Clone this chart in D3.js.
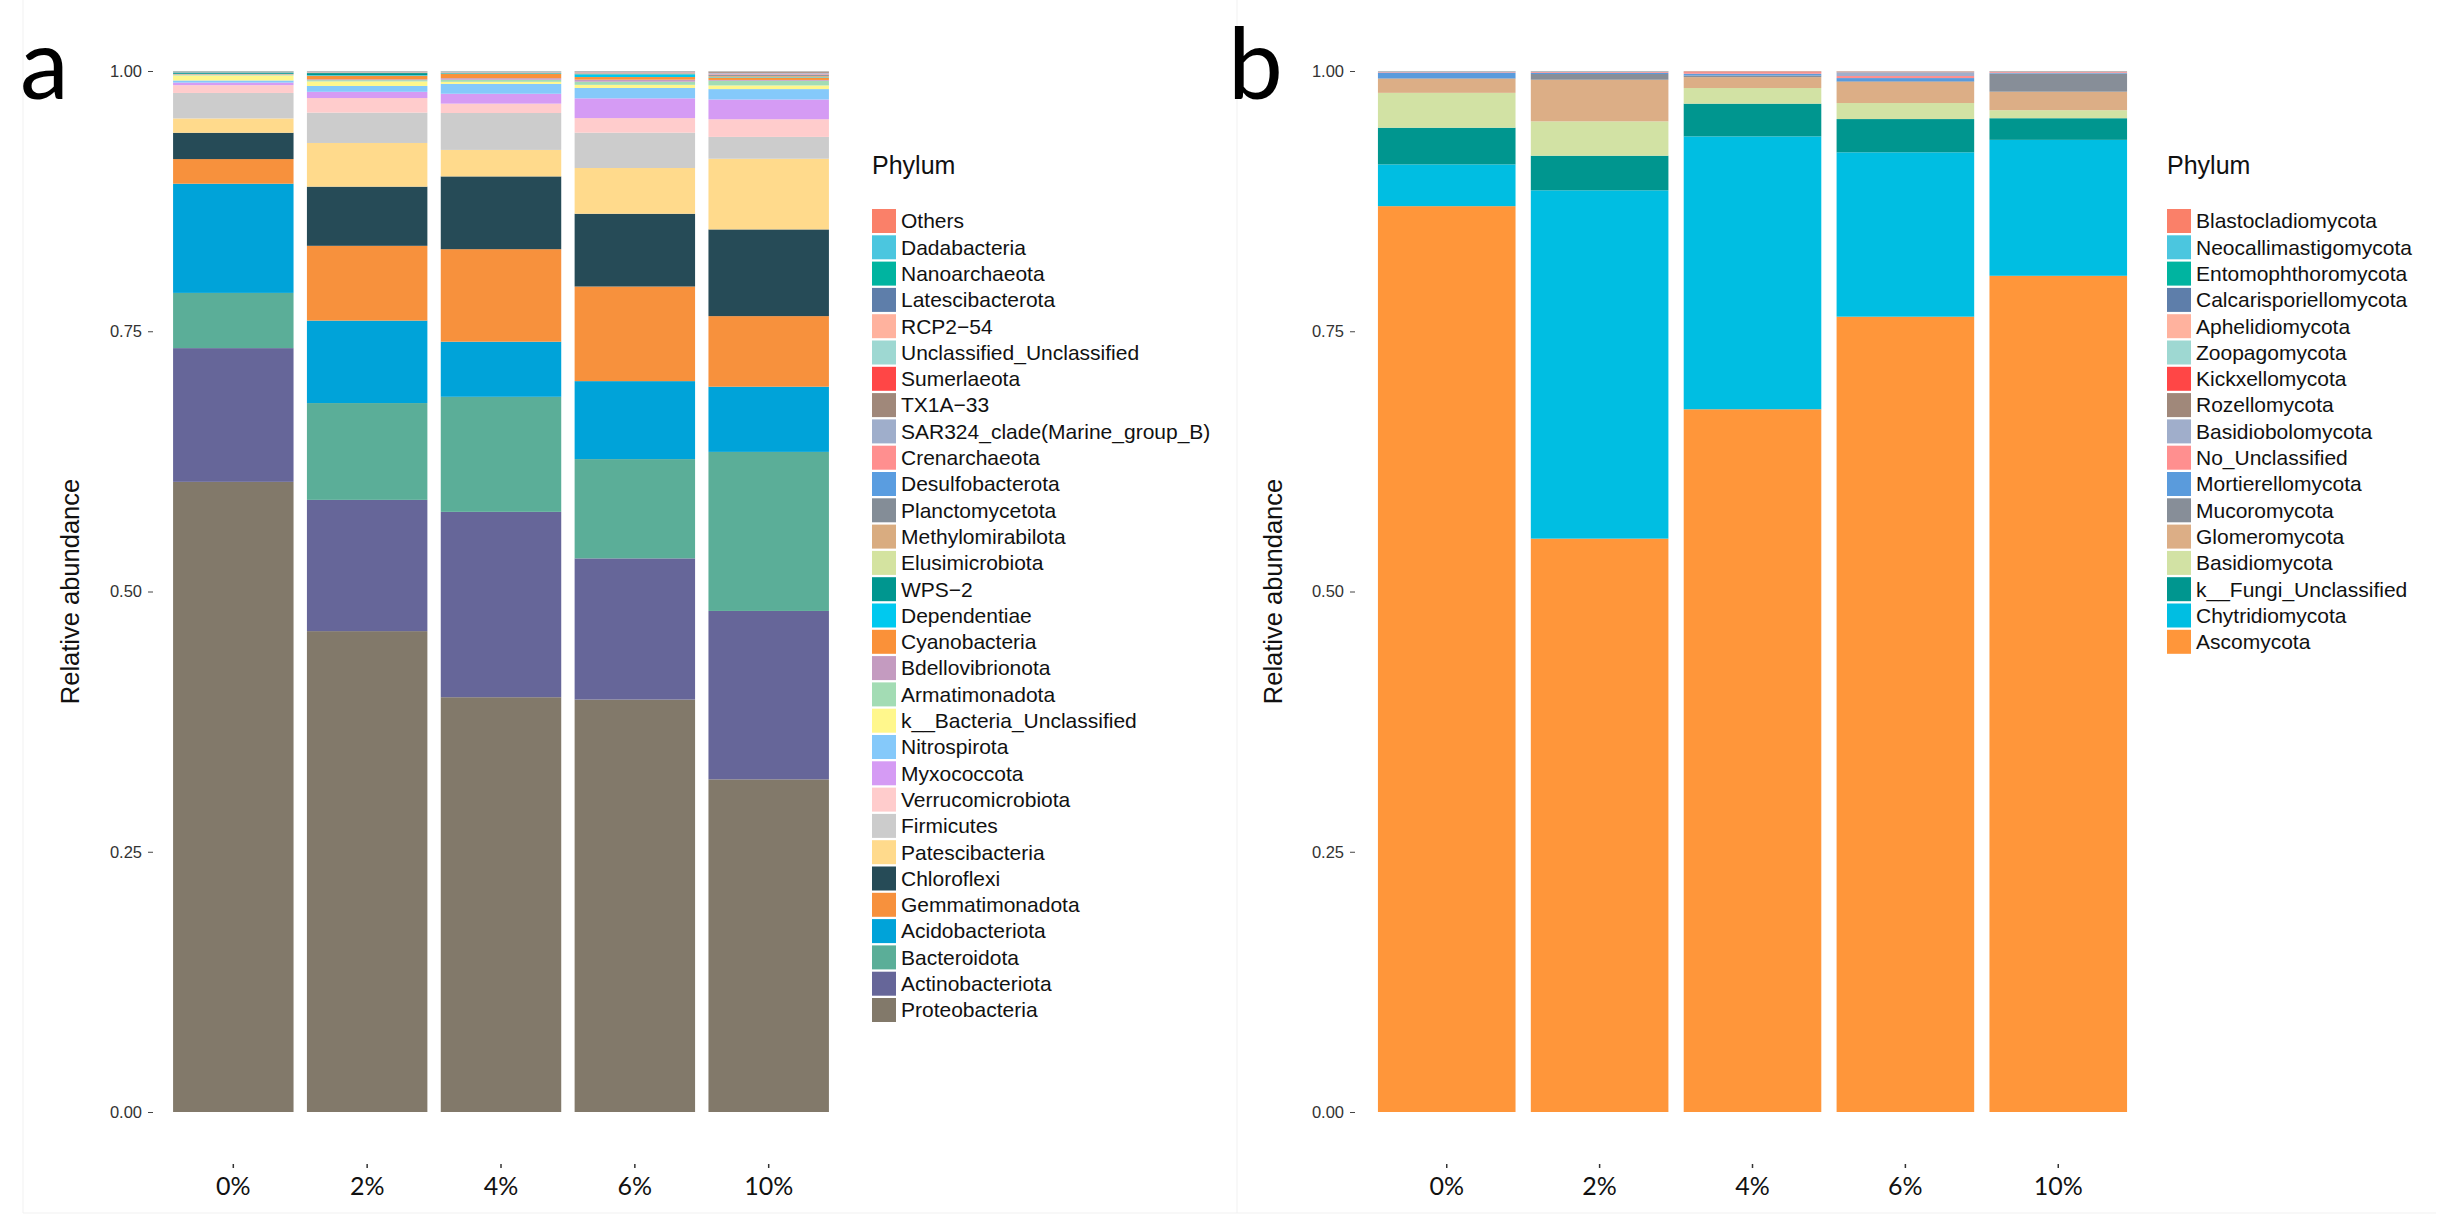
<!DOCTYPE html>
<html>
<head>
<meta charset="utf-8">
<script src="https://cdnjs.cloudflare.com/ajax/libs/d3/7.8.5/d3.min.js"></script>
<style>
  body { margin: 0; background: #fff; }
  svg { display: block; }
  .tick text { font-family: "Liberation Sans", Arial, sans-serif; }
</style>
</head>
<body>
<svg id="chart" width="2444" height="1227"></svg>
<script>
// samples (x categories)
var samples = ["0%", "2%", "4%", "6%", "10%"];
var yTicks = [0, 0.25, 0.5, 0.75, 1];

// bacteria, stack order bottom -> top
var bacPhyla = ["Proteobacteria", "Actinobacteriota", "Bacteroidota", "Acidobacteriota", "Gemmatimonadota",
    "Chloroflexi", "Patescibacteria", "Firmicutes", "Verrucomicrobiota", "Myxococcota", "Nitrospirota",
    "k__Bacteria_Unclassified", "Armatimonadota", "Bdellovibrionota", "Cyanobacteria", "Dependentiae",
    "WPS\u22122", "Elusimicrobiota", "Methylomirabilota", "Planctomycetota", "Desulfobacterota",
    "Crenarchaeota", "SAR324_clade(Marine_group_B)", "TX1A\u221233", "Sumerlaeota",
    "Unclassified_Unclassified", "RCP2\u221254", "Latescibacterota", "Nanoarchaeota", "Dadabacteria", "Others"];
var bacColors = ["#82796A", "#666699", "#5BAE98", "#00A3D9", "#F7913D",
    "#264B57", "#FFDA8C", "#CCCCCC", "#FFCCCC", "#D59BF4", "#85C9FA",
    "#FFF78C", "#A3DCB4", "#C49BC0", "#FA9139", "#00C9EF",
    "#00968F", "#D4E3A0", "#D9AC80", "#848D97", "#5A9DE0",
    "#FF8F8F", "#9FAECB", "#A0887A", "#FF4646",
    "#9ED8D2", "#FFB29E", "#5E7EAA", "#00B4A0", "#4BC6DF", "#FA8069"];
var bac0 = [0.606, 0.1286, 0.0531, 0.105, 0.0237, 0.0253, 0.0138, 0.0245, 0.0075, 0.0025, 0.002,
    0.0048, 0.0008, 0.0003, 0.0003, 0.0002, 0.0012, 0.0001, 0.0001, 0.0001, 0.0001,
    0.0001, 0.0001, 0.0001, 0.0001, 0.0001, 0.0001, 0.0001, 0.0002, 0.0001, 0.0001];
var bac2 = [0.4624, 0.1262, 0.0931, 0.0793, 0.0719, 0.0569, 0.042, 0.0292, 0.014, 0.006, 0.0056,
    0.0044, 0.0012, 0.0008, 0.0035, 0.0005, 0.002, 0.0003, 0.0003, 0.0002, 0.0001,
    0.0002, 0.0001, 0.0001, 0.0001, 0.0001, 0.0001, 0.0001, 0.0001, 0.0001, 0.0001];
var bac4 = [0.399, 0.1783, 0.1107, 0.053, 0.089, 0.070, 0.0255, 0.0355, 0.009, 0.0095, 0.0095,
    0.002, 0.002, 0.0015, 0.004, 0.0003, 0.0005, 0.0003, 0.0002, 0.0002, 0.0001,
    0.0002, 0.0001, 0.0001, 0.0001, 0.0003, 0.0001, 0.0001, 0.0001, 0.0001, 0.0001];
var bac6 = [0.3967, 0.1358, 0.0955, 0.075, 0.091, 0.070, 0.044, 0.034, 0.014, 0.019, 0.010,
    0.003, 0.003, 0.002, 0.0025, 0.0025, 0.0003, 0.0003, 0.0005, 0.0002, 0.0002,
    0.0005, 0.0002, 0.0004, 0.0001, 0.0001, 0.0001, 0.0001, 0.0001, 0.0001, 0.0001];
var bac10 = [0.320, 0.162, 0.153, 0.0627, 0.0679, 0.0834, 0.068, 0.021, 0.017, 0.019, 0.010,
    0.0035, 0.0045, 0.0008, 0.002, 0.0003, 0.0003, 0.0003, 0.001, 0.001, 0.0003,
    0.0008, 0.0008, 0.0008, 0.0002, 0.0002, 0.0002, 0.0001, 0.0001, 0.0001, 0.0001];

// fungi, stack order bottom -> top
var funPhyla = ["Ascomycota", "Chytridiomycota", "k__Fungi_Unclassified", "Basidiomycota", "Glomeromycota",
    "Mucoromycota", "Mortierellomycota", "No_Unclassified", "Basidiobolomycota", "Rozellomycota",
    "Kickxellomycota", "Zoopagomycota", "Aphelidiomycota", "Calcarisporiellomycota",
    "Entomophthoromycota", "Neocallimastigomycota", "Blastocladiomycota"];
var funColors = ["#FF963A", "#00BEE2", "#00968F", "#D2E2A4", "#DCAE86",
    "#878E98", "#5A9BDC", "#FF8F8F", "#A0AECB", "#A0887A",
    "#FF4646", "#9ED8D2", "#FFB29E", "#5E7EAA",
    "#00B4A0", "#4BC6DF", "#FA8069"];
var fun0 = [0.8706, 0.0401, 0.0353, 0.0335, 0.0135, 0.0005, 0.0055, 0.0005, 0.0002, 0.0001,
    0.0001, 0.0001, 0.0001, 0.0001, 0.0001, 0.0001, 0.0001];
var fun2 = [0.551, 0.3347, 0.0333, 0.033, 0.040, 0.0055, 0.001, 0.0008, 0.0003, 0.0001,
    0.0001, 0.0001, 0.0001, 0.0001, 0.0001, 0.0001, 0.0001];
var fun4 = [0.676, 0.2625, 0.0315, 0.015, 0.0105, 0.0015, 0.0015, 0.0008, 0.0002, 0.0001,
    0.0006, 0.0001, 0.0003, 0.0001, 0.0001, 0.0001, 0.0005];
var fun6 = [0.7646, 0.158, 0.032, 0.0154, 0.0204, 0.0006, 0.003, 0.002, 0.0035, 0.0002,
    0.0001, 0.0001, 0.0003, 0.0001, 0.0001, 0.0001, 0.0003];
var fun10 = [0.804, 0.1307, 0.0208, 0.0077, 0.0178, 0.0175, 0.0005, 0.0008, 0.0002, 0.0001,
    0.0001, 0.0001, 0.0001, 0.0001, 0.0001, 0.0001, 0.0002];

var sansFont = '"Liberation Sans", Arial, Helvetica, sans-serif';
var labelFont = 'Lato, "Open Sans", sans-serif';
var yTop = 71, yBottom = 1112;
var keySize = 24, keyStep = 26.3;

var svg = d3.select("#chart");

// faint frames of the pasted panels
svg.append("g")
    .attr("stroke", "#f1f1f1")
    .attr("fill", "none")
    .call(function (g) {
        g.append("line").attr("x1", 23).attr("x2", 23).attr("y1", 0).attr("y2", 1213);
        g.append("line").attr("x1", 1237).attr("x2", 1237).attr("y1", 0).attr("y2", 1213);
        g.append("line").attr("x1", 23).attr("x2", 2436).attr("y1", 1213).attr("y2", 1213);
    });

function drawPanel(p) {
    var g = svg.append("g");

    var x = d3.scaleBand().domain(samples)
        .range([p.left, p.right])
        .paddingInner(0.1)
        .paddingOuter(0.15);
    var y = d3.scaleLinear().domain([0, 1]).range([yBottom, yTop]);
    var color = d3.scaleOrdinal().domain(p.phyla).range(p.colors);

    var table = samples.map(function (s, i) {
        var row = { sample: s };
        p.phyla.forEach(function (ph, j) { row[ph] = p.values[i][j]; });
        return row;
    });
    var series = d3.stack().keys(p.phyla).offset(d3.stackOffsetExpand)(table);

    g.append("g").selectAll("g")
        .data(series)
        .join("g")
        .attr("fill", function (d) { return color(d.key); })
        .selectAll("rect")
        .data(function (d) { return d; })
        .join("rect")
        .attr("x", function (d) { return x(d.data.sample); })
        .attr("width", x.bandwidth())
        .attr("y", function (d) { return y(d[1]); })
        .attr("height", function (d) { return y(d[0]) - y(d[1]); });

    // y axis, no domain line
    var yAxis = d3.axisLeft(y).tickValues(yTicks).tickFormat(d3.format(".2f")).tickSize(5).tickPadding(6);
    g.append("g")
        .attr("transform", "translate(" + p.left + ",0)")
        .call(yAxis)
        .call(function (a) {
            a.select(".domain").remove();
            a.selectAll(".tick line").attr("stroke", "#444");
            a.selectAll(".tick text").attr("fill", "#333").style("font-size", "16.5px");
        });

    // x axis sits well below the bars
    var xAxis = d3.axisBottom(x).tickSize(4).tickPadding(9);
    g.append("g")
        .attr("transform", "translate(0,1164)")
        .call(xAxis)
        .call(function (a) {
            a.select(".domain").remove();
            a.selectAll(".tick line").attr("stroke", "#333").attr("stroke-width", 1.5);
            a.selectAll(".tick text").attr("fill", "#111")
                .style("font-family", labelFont).style("font-size", "25px");
        });

    g.append("text")
        .attr("transform", "translate(" + p.titleX + "," + ((yTop + yBottom) / 2) + ") rotate(-90)")
        .attr("text-anchor", "middle")
        .attr("font-family", sansFont)
        .attr("font-size", 25.5)
        .attr("fill", "#111")
        .text("Relative abundance");

    // panel letter
    g.append("text")
        .attr("x", p.letterX)
        .attr("y", 99)
        .attr("font-family", labelFont)
        .attr("font-size", 98)
        .attr("fill", "#000")
        .text(p.letter);

    // legend, reversed so the top of the stack is listed first
    var leg = g.append("g").attr("transform", "translate(" + p.legendX + ",0)");
    leg.append("text")
        .attr("x", 0).attr("y", 174)
        .attr("font-family", sansFont)
        .attr("font-size", 25)
        .attr("fill", "#111")
        .text("Phylum");
    var items = leg.selectAll("g.item")
        .data(p.phyla.slice().reverse())
        .join("g")
        .attr("class", "item")
        .attr("transform", function (d, i) { return "translate(0," + (209 + i * keyStep) + ")"; });
    items.append("rect")
        .attr("width", keySize).attr("height", keySize)
        .attr("fill", function (d) { return color(d); });
    items.append("text")
        .attr("x", keySize + 5)
        .attr("y", keySize / 2)
        .attr("dy", "0.35em")
        .attr("font-family", sansFont)
        .attr("font-size", 21)
        .attr("fill", "#111")
        .text(function (d) { return d; });
}

drawPanel({
    left: 153, right: 849, titleX: 79, letter: "a", letterX: 20, legendX: 872,
    phyla: bacPhyla, colors: bacColors, values: [bac0, bac2, bac4, bac6, bac10]
});
drawPanel({
    left: 1355, right: 2150, titleX: 1282, letter: "b", letterX: 1228, legendX: 2167,
    phyla: funPhyla, colors: funColors, values: [fun0, fun2, fun4, fun6, fun10]
});
</script>
</body>
</html>
